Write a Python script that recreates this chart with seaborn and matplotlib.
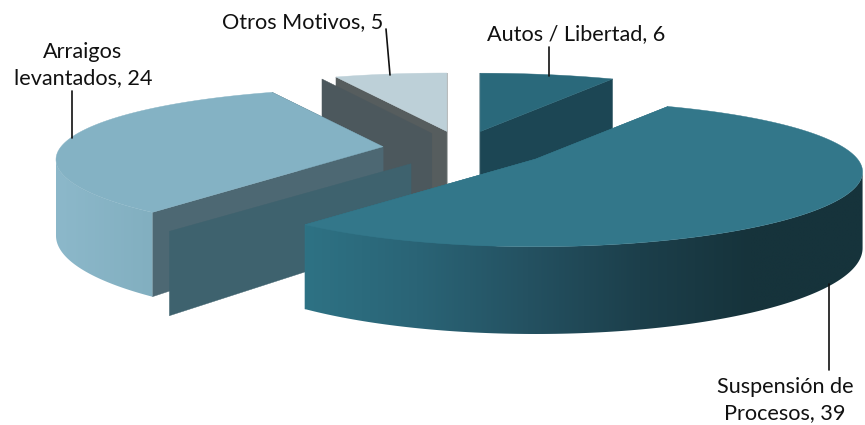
import numpy as np
import matplotlib
matplotlib.use('Agg')
import matplotlib.pyplot as plt
from matplotlib.patches import Polygon
import seaborn as sns

categories = ['Autos / Libertad', 'Suspensión de\nProcesos', 'Arraigos\nlevantados', 'Otros Motivos']
values = [6, 39, 24, 5]
explode = [1.0, 1.14, 0.97, 0.78]

# colours: top, cut face, wall gradient left -> right
top_colors = ['#2A697B', '#33778A', '#84B2C4', '#BDD0D8']
face_colors = ['#1C4654', '#2E7284', '#4D6873', '#565D5E']
wall_colors = [['#1C4654', '#1C4654'],
               ['#2E7284', '#2A6476', '#245161', '#1C3F4B', '#16333B', '#16333B'],
               ['#8CB8CA', '#82AFC0'],
               ['#BDD0D8', '#BDD0D8']]

# projection of the tilted, exploded pie (pixels)
CX, CY = 460, 149
RX, RY = 322, 73
EX, EY = 80, 18
PERSP_X, PERSP_Y = 0.18, 0.2
DEPTH = 74

sns.set_theme(style='white')
plt.rcParams['font.family'] = ['Lato', 'DejaVu Sans']

fig = plt.figure(figsize=(8.65, 4.25), dpi=100)
ax = fig.add_axes([0, 0, 1, 1])
ax.axis('off')

edges = np.cumsum([0] + values) / sum(values) * 2 * np.pi


def rim(apex, theta):
    z = -np.cos(theta)
    x = apex[0] + RX * np.sin(theta) * (1 + PERSP_X * z)
    y = apex[1] + RY * z * (1 + PERSP_Y * z)
    return x, y, DEPTH * (1 + PERSP_X * z)


def apex_of(i):
    mid = (edges[i] + edges[i + 1]) / 2
    return (CX + explode[i] * EX * np.sin(mid), CY - EY * np.cos(mid))


def draw_face(apex, theta, color, zorder, apex_shift=(0, 0), rim_shift=(0, 0)):
    x, y, h = rim(apex, theta)
    pts = [(apex[0] + apex_shift[0], apex[1] + apex_shift[1]),
           (x + rim_shift[0], y + rim_shift[1]),
           (x + rim_shift[0], y + rim_shift[1] + h),
           (apex[0] + apex_shift[0], apex[1] + apex_shift[1] + DEPTH)]
    ax.add_patch(Polygon(pts, closed=True, fc=color, ec=color, lw=0.3, zorder=zorder))


def draw_slice(i, zorder):
    apex = apex_of(i)
    theta = np.linspace(edges[i], edges[i + 1], 200)
    x, y, h = rim(apex, theta)

    draw_face(apex, edges[i], face_colors[i], zorder)
    draw_face(apex, edges[i + 1], face_colors[i], zorder)

    # wall between the right and left silhouette points, shaded left to right
    right = np.sin(theta) > 0
    left = np.sin(theta) < 0
    lo = np.argmax(np.where(right, x, -np.inf)) if right.any() else 0
    hi = np.argmin(np.where(left, x, np.inf)) if left.any() else len(x) - 1
    if hi > lo:
        xf, yf, hf = x[lo:hi + 1], y[lo:hi + 1], h[lo:hi + 1]
        pts = list(zip(xf, yf)) + list(zip(xf[::-1], (yf + hf)[::-1]))
        pal = np.array(sns.blend_palette(wall_colors[i], 256))[:, :3][np.newaxis]
        im = ax.imshow(pal, extent=(xf.min(), xf.max(), (yf + hf).max(), yf.min()),
                       aspect='auto', interpolation='bilinear', zorder=zorder + 0.1)
        im.set_clip_path(Polygon(pts, closed=True, transform=ax.transData))

    top = list(zip(x, y)) + [apex]
    ax.add_patch(Polygon(top, closed=True, fc=top_colors[i], ec=top_colors[i],
                         lw=0.3, zorder=zorder + 0.2))


# back to front, with the extra panels the 3D renderer leaves between slices
draw_slice(3, 1)
draw_face(apex_of(3), edges[3], '#4C585D', 2, apex_shift=(-15, 2), rim_shift=(-14, 2))
draw_slice(0, 3)
draw_slice(2, 4)
draw_face(apex_of(2), edges[2], '#3E626E', 5, apex_shift=(28, 17), rim_shift=(17, 19))
draw_slice(1, 6)

# labels and leader lines
label_style = dict(ha='center', va='center', fontsize=15.6, color='#111111', linespacing=1.4, zorder=10)
ax.text(303, 22, f'{categories[3]}, {values[3]}', **label_style)
ax.text(576, 34, f'{categories[0]}, {values[0]}', **label_style)
ax.text(83, 65, f'{categories[2]}, {values[2]}', **label_style)
ax.text(785, 400, f'{categories[1]}, {values[1]}', **label_style)

for xs, ys in [([386, 390], [29, 75]), ([549, 549], [47, 76]),
               ([72, 72], [91, 138]), ([829, 829], [284, 370])]:
    ax.plot(xs, ys, color='#111111', lw=1.2, zorder=9)

ax.set_xlim(0, 865)
ax.set_ylim(425, 0)
fig.savefig('out.png', dpi=100)
